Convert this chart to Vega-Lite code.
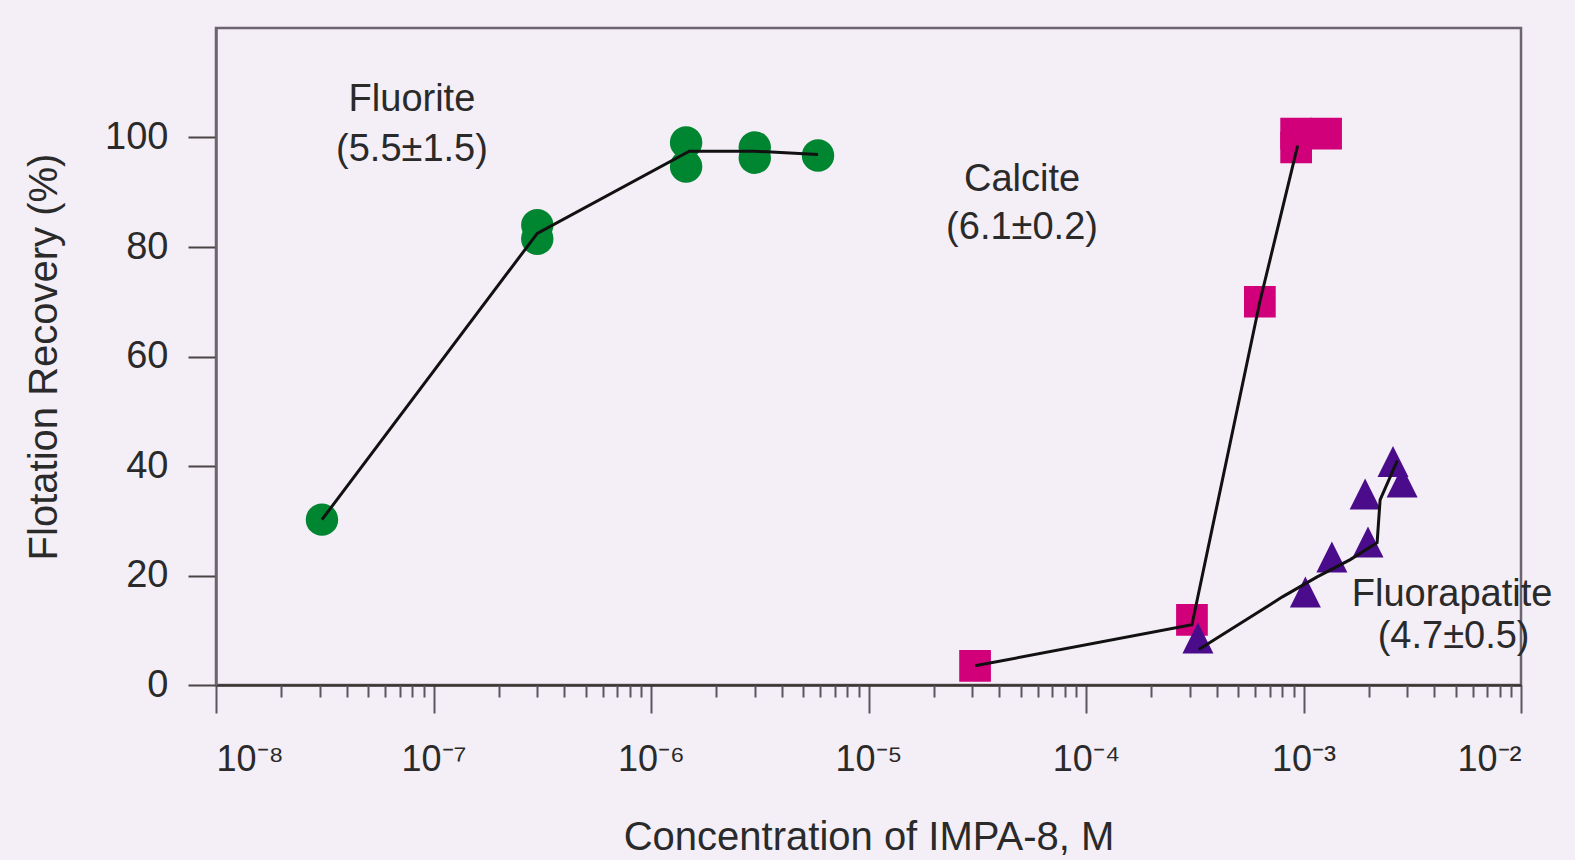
{
  "$schema": "https://vega.github.io/schema/vega-lite/v6.json",
  "autosize": {"type": "none"},
  "width": 1305,
  "height": 657,
  "padding": {"left": 216, "top": 28, "right": 54, "bottom": 175},
  "background": "#f4eef6",
  "config": {
    "font": "Liberation Sans",
    "view": {"stroke": "#6c6470", "strokeWidth": 2.5},
    "axis": {"grid": false, "labelColor": "#2a2a2a", "titleColor": "#2a2a2a", "titleFontWeight": "normal"}
  },
  "datasets": {
    "points": [
      {"mineral": "Fluorite", "conc": 3.07e-8, "recovery": 30.2},
      {"mineral": "Fluorite", "conc": 3.0e-7, "recovery": 84},
      {"mineral": "Fluorite", "conc": 3.0e-7, "recovery": 81.5},
      {"mineral": "Fluorite", "conc": 1.45e-6, "recovery": 99.1},
      {"mineral": "Fluorite", "conc": 1.45e-6, "recovery": 94.7},
      {"mineral": "Fluorite", "conc": 3.0e-6, "recovery": 98.2},
      {"mineral": "Fluorite", "conc": 3.0e-6, "recovery": 96.3},
      {"mineral": "Fluorite", "conc": 5.86e-6, "recovery": 96.7},
      {"mineral": "Calcite", "conc": 3.09e-5, "recovery": 3.5},
      {"mineral": "Calcite", "conc": 3.07e-4, "recovery": 11.9},
      {"mineral": "Calcite", "conc": 6.3e-4, "recovery": 70},
      {"mineral": "Calcite", "conc": 9.25e-4, "recovery": 98.2},
      {"mineral": "Calcite", "conc": 9.25e-4, "recovery": 100.7},
      {"mineral": "Calcite", "conc": 1.27e-3, "recovery": 100.7},
      {"mineral": "Fluorapatite", "conc": 3.27e-4, "recovery": 8.6},
      {"mineral": "Fluorapatite", "conc": 1.02e-3, "recovery": 17.0},
      {"mineral": "Fluorapatite", "conc": 1.35e-3, "recovery": 23.4},
      {"mineral": "Fluorapatite", "conc": 1.98e-3, "recovery": 26.1},
      {"mineral": "Fluorapatite", "conc": 1.92e-3, "recovery": 34.9},
      {"mineral": "Fluorapatite", "conc": 2.58e-3, "recovery": 40.8},
      {"mineral": "Fluorapatite", "conc": 2.84e-3, "recovery": 37.1}
    ],
    "curves": [
      {"mineral": "Fluorite", "order": 1, "conc": 3.07e-8, "recovery": 30.2},
      {"mineral": "Fluorite", "order": 2, "conc": 3.0e-7, "recovery": 82.5},
      {"mineral": "Fluorite", "order": 3, "conc": 1.5e-6, "recovery": 97.5},
      {"mineral": "Fluorite", "order": 4, "conc": 3.0e-6, "recovery": 97.5},
      {"mineral": "Fluorite", "order": 5, "conc": 5.86e-6, "recovery": 96.9},
      {"mineral": "Calcite", "order": 1, "conc": 3.09e-5, "recovery": 3.5},
      {"mineral": "Calcite", "order": 2, "conc": 3.07e-4, "recovery": 11},
      {"mineral": "Calcite", "order": 3, "conc": 6.3e-4, "recovery": 70},
      {"mineral": "Calcite", "order": 4, "conc": 9.4e-4, "recovery": 98.5},
      {"mineral": "Fluorapatite", "order": 1, "conc": 3.3e-4, "recovery": 6.5},
      {"mineral": "Fluorapatite", "order": 2, "conc": 8.0e-4, "recovery": 16.1},
      {"mineral": "Fluorapatite", "order": 3, "conc": 1.15e-3, "recovery": 19.7},
      {"mineral": "Fluorapatite", "order": 4, "conc": 1.64e-3, "recovery": 22.9},
      {"mineral": "Fluorapatite", "order": 5, "conc": 2.18e-3, "recovery": 26},
      {"mineral": "Fluorapatite", "order": 6, "conc": 2.25e-3, "recovery": 33.8},
      {"mineral": "Fluorapatite", "order": 7, "conc": 2.7e-3, "recovery": 41}
    ],
    "labels": [
      {"text": "Fluorite", "conc": 7.96e-8, "recovery": 106.9},
      {"text": "(5.5±1.5)", "conc": 7.96e-8, "recovery": 97.8},
      {"text": "Calcite", "conc": 5.08e-5, "recovery": 92.3},
      {"text": "(6.1±0.2)", "conc": 5.08e-5, "recovery": 83.5},
      {"text": "Fluorapatite", "conc": 4.82e-3, "recovery": 16.5},
      {"text": "(4.7±0.5)", "conc": 4.9e-3, "recovery": 8.8}
    ]
  },
  "resolve": {"axis": {"x": "independent"}},
  "layer": [
    {
      "data": {"name": "points"},
      "mark": {"type": "point", "filled": true, "opacity": 1, "strokeWidth": 0},
      "encoding": {
        "x": {
          "field": "conc", "type": "quantitative",
          "scale": {"type": "log", "domain": [1e-8, 1e-2], "nice": false},
          "axis": {
            "orient": "bottom", "title": "Concentration of IMPA-8, M",
            "values": [1e-8, 1e-7, 1e-6, 1e-5, 1e-4, 1e-3, 1e-2],
            "labelExpr": "'10⁻' + ['⁰','¹','²','³','⁴','⁵','⁶','⁷','⁸','⁹'][-round(log(datum.value)/LN10)]",
            "labelFontSize": 36, "labelPadding": 29, "tickSize": 28, "tickWidth": 2,
            "tickColor": "#5a5560", "domainColor": "#3a3530", "domainWidth": 2.5,
            "titleFontSize": 40, "titlePadding": 40
          }
        },
        "y": {
          "field": "recovery", "type": "quantitative",
          "scale": {"domain": [0, 120], "nice": false},
          "axis": {
            "title": "Flotation Recovery (%)",
            "values": [0, 20, 40, 60, 80, 100],
            "labelFontSize": 38, "labelPadding": 20, "tickSize": 28, "tickWidth": 2,
            "tickColor": "#4a4545", "domainColor": "#6c6470", "domainWidth": 2.5,
            "titleFontSize": 40, "titlePadding": 40
          }
        },
        "shape": {
          "field": "mineral", "type": "nominal", "legend": null,
          "scale": {"domain": ["Fluorite", "Calcite", "Fluorapatite"], "range": ["circle", "square", "M0,-1L1,1L-1,1Z"]}
        },
        "color": {
          "field": "mineral", "type": "nominal", "legend": null,
          "scale": {"domain": ["Fluorite", "Calcite", "Fluorapatite"], "range": ["#008530", "#d1007a", "#4b0c8c"]}
        },
        "size": {
          "field": "mineral", "type": "nominal", "legend": null,
          "scale": {"domain": ["Fluorite", "Calcite", "Fluorapatite"], "range": [1050, 961, 1050]}
        }
      }
    },
    {
      "data": {"name": "curves"},
      "mark": {"type": "line", "color": "#111111", "strokeWidth": 3},
      "encoding": {
        "x": {
          "field": "conc", "type": "quantitative",
          "scale": {"type": "log", "domain": [1e-8, 1e-2], "nice": false},
          "axis": {
            "orient": "bottom", "title": null, "labels": false, "domain": false,
            "tickSize": 12, "tickWidth": 2, "tickColor": "#5a5560",
            "values": [2e-8,3e-8,4e-8,5e-8,6e-8,7e-8,8e-8,9e-8,2e-7,3e-7,4e-7,5e-7,6e-7,7e-7,8e-7,9e-7,2e-6,3e-6,4e-6,5e-6,6e-6,7e-6,8e-6,9e-6,2e-5,3e-5,4e-5,5e-5,6e-5,7e-5,8e-5,9e-5,2e-4,3e-4,4e-4,5e-4,6e-4,7e-4,8e-4,9e-4,2e-3,3e-3,4e-3,5e-3,6e-3,7e-3,8e-3,9e-3]
          }
        },
        "y": {"field": "recovery", "type": "quantitative", "scale": {"domain": [0, 120], "nice": false}},
        "detail": {"field": "mineral"},
        "order": {"field": "order"}
      }
    },
    {
      "data": {"name": "labels"},
      "mark": {"type": "text", "fontSize": 38, "color": "#2a2a2a", "align": "center", "baseline": "middle"},
      "encoding": {
        "x": {"field": "conc", "type": "quantitative", "scale": {"type": "log", "domain": [1e-8, 1e-2], "nice": false}, "axis": null},
        "y": {"field": "recovery", "type": "quantitative", "scale": {"domain": [0, 120], "nice": false}},
        "text": {"field": "text"}
      }
    }
  ]
}
